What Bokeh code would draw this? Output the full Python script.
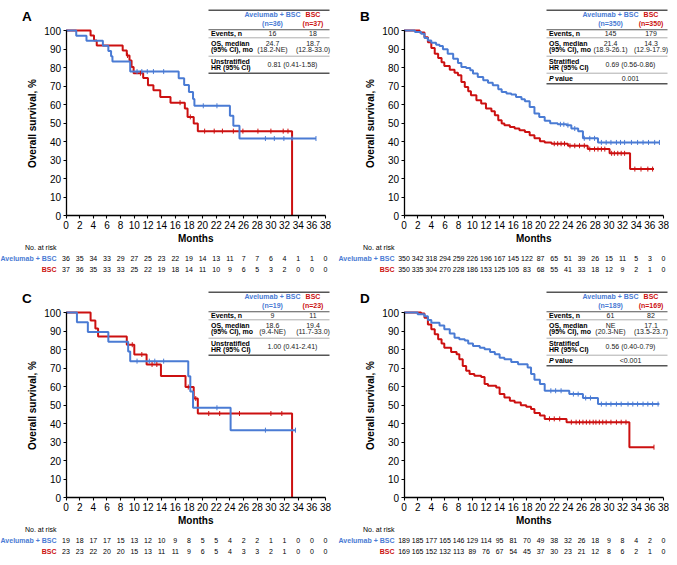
import numpy as np
from bokeh.plotting import figure
from bokeh.layouts import column, row
from bokeh.models import Range1d, LinearAxis, FixedTicker
from bokeh.core.properties import value
from bokeh.embed import file_html
from bokeh.resources import INLINE

FONT = "Liberation Sans"
BLUE = "#4a7bd4"
RED = "#cc1010"

months = list(range(0, 40, 2))
y_ticks = list(range(0, 110, 10))

# ---------------- Panel A ----------------
A_blue_t = [0, 1.5, 3.0, 5.4, 6.2, 6.6, 6.8, 9.4, 16.5, 17.3, 18.0, 18.6, 18.8, 24.0, 24.5, 25.4, 36.6]
A_blue_s = [100, 97.2, 94.4, 91.7, 88.9, 86.1, 83.3, 77.8, 74.2, 70.5, 66.8, 63.0, 59.3, 53.9, 48.5, 41.6, 41.6]
A_blue_c = [10.4, 11.1, 11.9, 12.8, 14.3, 20.1, 22.1, 29.2, 30.5, 31.9, 33.1, 36.6]
A_red_t = [0, 3.6, 4.1, 4.5, 8.3, 8.9, 9.3, 9.6, 9.9, 11.3, 12.0, 12.8, 13.8, 15.3, 17.4, 17.8, 18.7, 19.3, 33.1]
A_red_s = [100, 97.3, 94.6, 91.9, 89.2, 86.5, 83.8, 80.3, 76.9, 74.3, 70.4, 67.7, 64.0, 61.0, 57.8, 53.3, 49.7, 45.6, 0]
A_red_c = [9.0, 10.9, 16.7, 18.2, 20.3, 21.7, 22.9, 24.5, 25.9, 28.1, 30.0, 31.8, 32.5]
A_risk_blue = [36, 35, 34, 33, 29, 27, 25, 23, 22, 19, 14, 13, 11, 7, 7, 6, 4, 1, 1, 0]
A_risk_red = [37, 36, 35, 33, 33, 25, 22, 19, 18, 14, 11, 10, 9, 6, 5, 3, 2, 0, 0, 0]
A_table = dict(n1="(n=36)", n2="(n=37)", ev1="16", ev2="18", med1="24.7", ci1="(18.2-NE)",
               med2="18.7", ci2="(12.8-33.0)", hrlab="Unstratified", hr="0.81 (0.41-1.58)", pval=None)

# ---------------- Panel B ----------------
B_blue_t = [0, 1.6, 2.5, 3.0, 3.5, 4.0, 4.7, 5.2, 5.7, 6.4, 7.2, 7.9, 8.4, 9.1, 9.7, 10.1, 10.8, 11.6, 12.3, 13.0,
            13.8, 14.3, 15.0, 15.7, 16.4, 17.2, 17.7, 18.4, 19.1, 19.8, 20.6, 21.4, 22.5, 23.8, 24.5, 25.5, 26.2, 28.4, 37.4]
B_blue_s = [100, 99.2, 98.2, 95.9, 94.6, 93.4, 92.3, 91.6, 89.8, 87.4, 84.7, 82.4, 80.3, 79.7, 78.5, 76.7, 74.9, 73.1, 71.8, 70.4,
            68.2, 66.8, 65.9, 65.4, 64.1, 62.8, 61.8, 58.7, 55.1, 53.3, 51.2, 49.8, 49.3, 48.8, 47.0, 45.6, 41.7, 39.5, 39.5]
B_blue_c = [22.9, 23.4, 24.0, 25.0, 26.4, 27.2, 27.9, 28.9, 29.6, 30.3, 31.1, 31.7, 32.3, 33.3, 34.2, 35.0, 35.8, 36.7, 37.4]
B_red_t = [0, 2.3, 3.0, 3.5, 4.0, 4.5, 5.0, 5.5, 5.9, 6.7, 7.4, 7.9, 8.4, 8.9, 9.4, 9.8, 10.6, 11.3, 12.0, 12.8,
           13.3, 13.8, 14.3, 14.7, 15.5, 16.2, 16.9, 17.7, 18.4, 19.1, 19.9, 20.6, 21.6, 24.0, 26.9, 30.1, 33.1, 36.6]
B_red_s = [100, 98.9, 96.4, 93.7, 90.5, 87.4, 85.1, 82.9, 80.8, 78.8, 77.2, 75.8, 72.2, 69.5, 67.1, 65.0, 62.3, 60.5, 57.8, 56.4,
           54.2, 51.5, 49.7, 48.8, 47.9, 47.0, 46.1, 45.2, 43.4, 41.7, 40.2, 39.5, 38.8, 37.7, 35.9, 33.6, 25.1, 25.1]
B_red_c = [22.0, 22.5, 23.0, 23.5, 24.3, 25.0, 25.7, 26.4, 27.2, 27.9, 28.4, 28.9, 29.4, 30.4, 30.8, 31.3, 31.8, 32.3,
           33.8, 34.7, 35.7, 36.4]
B_risk_blue = [350, 342, 318, 294, 259, 226, 196, 167, 145, 122, 87, 65, 51, 39, 26, 15, 11, 5, 3, 0]
B_risk_red = [350, 335, 304, 270, 228, 186, 153, 125, 105, 83, 68, 55, 41, 33, 18, 12, 9, 2, 1, 0]
B_table = dict(n1="(n=350)", n2="(n=350)", ev1="145", ev2="179", med1="21.4", ci1="(18.9-26.1)",
               med2="14.3", ci2="(12.9-17.9)", hrlab="Stratified", hr="0.69 (0.56-0.86)", pval="0.001")

# ---------------- Panel C ----------------
C_blue_t = [0, 1.6, 3.2, 6.2, 9.1, 9.4, 17.9, 18.2, 18.6, 24.1, 33.6]
C_blue_s = [100, 94.7, 89.5, 84.2, 78.9, 73.7, 65.5, 57.3, 48.5, 36.4, 36.4]
C_blue_c = [10.4, 12.2, 13.0, 14.3, 22.1, 29.2, 33.6]
C_red_t = [0, 3.6, 4.3, 4.7, 8.9, 10.0, 11.8, 13.9, 17.5, 18.7, 19.3, 33.1]
C_red_s = [100, 95.7, 91.3, 87.0, 82.6, 77.3, 71.9, 65.7, 59.7, 53.5, 45.4, 0]
C_red_c = [9.7, 11.1, 12.6, 13.3, 17.9, 19.0, 20.9, 22.5, 25.4, 30.0, 31.6]
C_risk_blue = [19, 18, 17, 17, 15, 13, 12, 10, 9, 8, 5, 5, 4, 2, 2, 1, 1, 0, 0, 0]
C_risk_red = [23, 23, 22, 20, 20, 15, 13, 11, 11, 9, 6, 5, 4, 3, 3, 2, 1, 0, 0, 0]
C_table = dict(n1="(n=19)", n2="(n=23)", ev1="9", ev2="11", med1="18.6", ci1="(9.4-NE)",
               med2="19.4", ci2="(11.7-33.0)", hrlab="Unstratified", hr="1.00 (0.41-2.41)", pval=None)

# ---------------- Panel D ----------------
D_blue_t = [0, 2.0, 3.0, 3.5, 4.0, 5.2, 5.9, 6.7, 7.4, 8.1, 8.9, 9.4, 10.1, 11.1, 11.8, 12.6, 13.3, 14.0, 14.7, 15.7,
            16.7, 18.1, 18.6, 19.1, 19.9, 20.6, 24.2, 26.2, 28.4, 37.4]
D_blue_s = [100, 99.0, 98.0, 95.9, 94.4, 93.0, 90.9, 88.7, 86.4, 85.5, 84.9, 83.3, 81.9, 81.0, 80.1, 78.7, 77.4, 75.6, 74.7, 73.3,
            72.0, 70.3, 66.7, 63.6, 61.3, 57.7, 55.9, 53.8, 50.5, 50.5]
D_blue_c = [21.5, 22.2, 23.0, 24.8, 25.5, 26.6, 27.3, 28.9, 29.6, 30.3, 31.1, 31.8, 32.8, 33.5, 34.2, 35.0, 35.7, 36.4, 37.2]
D_red_t = [0, 2.5, 3.0, 3.5, 4.0, 4.5, 5.0, 5.5, 5.9, 6.9, 7.7, 8.1, 8.6, 9.1, 9.6, 10.3, 11.3, 11.8, 12.3, 13.5,
           14.0, 14.7, 15.5, 16.2, 17.1, 17.9, 18.6, 19.1, 19.9, 20.6, 23.8, 33.0, 36.6]
D_red_s = [100, 99.4, 97.1, 93.5, 90.9, 88.2, 85.5, 83.2, 81.0, 78.7, 77.4, 74.7, 71.1, 68.5, 66.7, 65.8, 65.2, 61.3, 60.4, 59.5,
           55.9, 54.1, 52.3, 51.4, 49.8, 49.0, 47.8, 45.7, 44.3, 42.5, 40.7, 27.2, 27.2]
D_red_c = [21.3, 22.0, 22.8, 24.5, 25.2, 25.7, 26.2, 26.7, 27.2, 27.7, 28.1, 28.6, 29.1, 29.6, 30.3, 31.1, 31.8, 32.5, 36.6]
D_risk_blue = [189, 185, 177, 165, 146, 129, 114, 95, 81, 70, 49, 38, 32, 26, 18, 9, 8, 4, 2, 0]
D_risk_red = [169, 165, 152, 132, 113, 89, 76, 67, 54, 45, 37, 30, 23, 21, 12, 8, 6, 2, 1, 0]
D_table = dict(n1="(n=189)", n2="(n=169)", ev1="61", ev2="82", med1="NE", ci1="(20.3-NE)",
               med2="17.1", ci2="(13.5-23.7)", hrlab="Stratified", hr="0.56 (0.40-0.79)", pval="<0.001")

# ---------------- layout geometry (panel-local pixels) ----------------
X0, PXM = 65.5, 6.83   # pixel of month 0, pixels per month
Y0, PXP = 215.0, 1.85  # pixel of 0 %, pixels per percent


def dx(px):
    return (px - X0) / PXM


def dy(py):
    return (Y0 - py) / PXP


def txt(p, x, y, s, size, color="black", style="normal", align="center", baseline="middle", angle=0.0):
    p.text(x=[x], y=[y], text=[s], text_font=value(FONT), text_font_size=value(f"{size}px"),
           text_font_style=style, text_color=color, text_align=align, text_baseline=baseline, angle=angle)


def level_at(t, s, c):
    t = np.asarray(t)
    s = np.asarray(s)
    idx = np.searchsorted(t, np.asarray(c), side="right") - 1
    return s[idx]


def make_panel(W, H, letter, bt, bs, bc, rt, rs, rc, rb, rr, tb):
    p = figure(width=W, height=H, x_range=Range1d(dx(0), dx(W)), y_range=Range1d(dy(H), dy(0)),
               output_backend="svg", toolbar_location=None, tools="", x_axis_type=None, y_axis_type=None,
               min_border=0, outline_line_color=None, background_fill_color="white", border_fill_color="white")

    for ax, side, ticks, bounds in ((LinearAxis(fixed_location=0), "below", months, (0, 38)),
                                    (LinearAxis(fixed_location=0), "left", y_ticks, (0, 100))):
        ax.ticker = FixedTicker(ticks=ticks)
        ax.bounds = bounds
        ax.axis_line_width = 1.3
        ax.axis_line_color = "black"
        ax.major_tick_line_width = 1.1
        ax.major_tick_out = 3
        ax.major_tick_in = 0
        ax.minor_tick_out = 0
        ax.minor_tick_in = 0
        ax.major_label_text_font = FONT
        ax.major_label_text_font_size = "10px"
        ax.major_label_text_color = "black"
        ax.major_label_standoff = 2
        p.add_layout(ax, side)

    # curves
    p.step(x=rt, y=rs, mode="after", line_color=RED, line_width=2)
    p.step(x=bt, y=bs, mode="after", line_color=BLUE, line_width=2)
    p.scatter(x=rc, y=level_at(rt, rs, rc), marker="dash", angle=np.pi / 2, size=5, line_color=RED, line_width=1)
    p.scatter(x=bc, y=level_at(bt, bs, bc), marker="dash", angle=np.pi / 2, size=5, line_color=BLUE, line_width=1)

    # panel letter and axis titles
    txt(p, dx(21.5), dy(15.5), letter, 13.5, style="bold", align="left", baseline="alphabetic")
    txt(p, dx(31.5), dy(123), "Overall survival, %", 10, style="bold", angle=np.pi / 2)
    txt(p, 19, dy(238), "Months", 10, style="bold")

    # number at risk
    txt(p, dx(56), dy(247), "No. at risk", 7, align="right")
    txt(p, dx(56), dy(258), "Avelumab + BSC", 7, color=BLUE, style="bold", align="right")
    txt(p, dx(56), dy(269), "BSC", 7, color=RED, style="bold", align="right")
    p.text(x=months, y=[dy(258)] * len(months), text=[str(v) for v in rb], text_font=value(FONT),
           text_font_size=value("7px"), text_align="center", text_baseline="middle", text_color="black")
    p.text(x=months, y=[dy(269)] * len(months), text=[str(v) for v in rr], text_font=value(FONT),
           text_font_size=value("7px"), text_align="center", text_baseline="middle", text_color="black")

    # summary table
    L, R = 208, 329
    c1, c2, cm, lab = 272, 312.5, 292, 210.5
    fs = 7

    def hline(py, w, col):
        p.segment(x0=[dx(L)], x1=[dx(R)], y0=[dy(py)], y1=[dy(py)], line_width=w, line_color=col)

    hline(9.7, 1.5, "#555555")
    txt(p, dx(c1), dy(14.3), "Avelumab + BSC", fs, color=BLUE, style="bold")
    txt(p, dx(c2), dy(14.3), "BSC", fs, color=RED, style="bold")
    txt(p, dx(c1), dy(22.7), tb["n1"], fs, color=BLUE, style="bold")
    txt(p, dx(c2), dy(22.7), tb["n2"], fs, color=RED, style="bold")
    hline(29.3, 1.1, "#555555")
    txt(p, dx(lab), dy(33), "Events, n", fs, style="bold", align="left")
    txt(p, dx(c1), dy(33), tb["ev1"], fs, color="#222222")
    txt(p, dx(c2), dy(33), tb["ev2"], fs, color="#222222")
    hline(37.3, 0.8, "#999999")
    txt(p, dx(lab), dy(42.7), "OS, median", fs, style="bold", align="left")
    txt(p, dx(lab), dy(49.3), "(95% CI), mo", fs, style="bold", align="left")
    txt(p, dx(c1), dy(42.7), tb["med1"], fs, color="#222222")
    txt(p, dx(c1), dy(49.3), tb["ci1"], fs, color="#222222")
    txt(p, dx(c2), dy(42.7), tb["med2"], fs, color="#222222")
    txt(p, dx(c2), dy(49.3), tb["ci2"], fs, color="#222222")
    hline(55.7, 0.8, "#999999")
    txt(p, dx(lab), dy(60.7), tb["hrlab"], fs, style="bold", align="left")
    txt(p, dx(lab), dy(67.3), "HR (95% CI)", fs, style="bold", align="left")
    txt(p, dx(cm), dy(64), tb["hr"], fs, color="#222222")
    if tb["pval"] is None:
        hline(72.7, 1.5, "#555555")
    else:
        hline(72.7, 0.8, "#999999")
        txt(p, dx(lab), dy(78.3), "P", fs, style="bold italic", align="left")
        txt(p, dx(lab + 6.0), dy(78.3), "value", fs, style="bold", align="left")
        txt(p, dx(cm), dy(78.3), tb["pval"], fs, color="#222222")
        hline(83.3, 1.5, "#555555")
    return p


WL, WR = 338, 331
H1, H2 = 282, 275

pA = make_panel(WL, H1, "A", A_blue_t, A_blue_s, A_blue_c, A_red_t, A_red_s, A_red_c, A_risk_blue, A_risk_red, A_table)
pB = make_panel(WR, H1, "B", B_blue_t, B_blue_s, B_blue_c, B_red_t, B_red_s, B_red_c, B_risk_blue, B_risk_red, B_table)
pC = make_panel(WL, H2, "C", C_blue_t, C_blue_s, C_blue_c, C_red_t, C_red_s, C_red_c, C_risk_blue, C_risk_red, C_table)
pD = make_panel(WR, H2, "D", D_blue_t, D_blue_s, D_blue_c, D_red_t, D_red_s, D_red_c, D_risk_blue, D_risk_red, D_table)

layout = column(row(pA, pB), row(pC, pD))

with open("out.html", "w") as f:
    f.write(file_html(layout, INLINE))
